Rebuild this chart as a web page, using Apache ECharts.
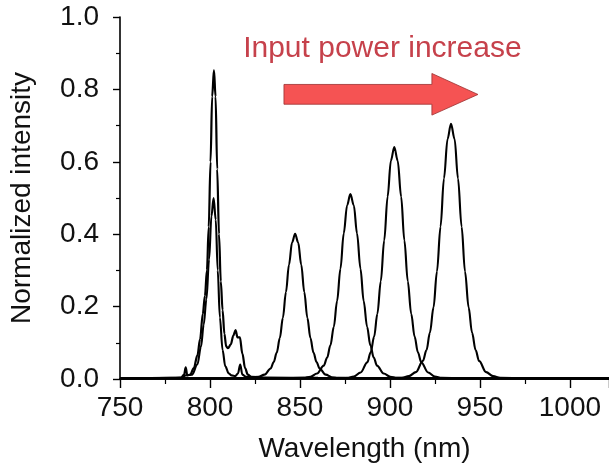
<!DOCTYPE html>
<html>
<head>
<meta charset="utf-8">
<script src="https://cdn.jsdelivr.net/npm/echarts@6/dist/echarts.min.js"></script>
<style>
html,body{margin:0;padding:0;background:#fff;}
#chart{width:609px;height:468px;}
</style>
</head>
<body>
<div id="chart"></div>
<script>
// Axis ticks
const xTicks = [750, 800, 850, 900, 950, 1000];
const yTicks = [0.0, 0.2, 0.4, 0.6, 0.8, 1.0];

// Spectrum at lowest input power (~802 nm)
const spectrum1 = [
  [750,0.002],[778,0.003],[784,0.004],[785.6,0.012],[786.5,0.032],[787.4,0.01],[789,0.012],[791,0.03],
  [793,0.065],[794.5,0.11],[796,0.18],[797.2,0.23],[798.3,0.30],[799.3,0.42],[800.3,0.60],[801.2,0.78],
  [802.2,0.853],[803.1,0.78],[804,0.58],[805,0.40],[806,0.27],[807,0.19],[808,0.125],[809,0.09],
  [810,0.085],[811.5,0.095],[813,0.12],[814.2,0.135],[815.3,0.115],[816.6,0.115],[818,0.07],[819.5,0.03],
  [821,0.012],[823,0.006],[830,0.004],[860,0.003],[1022,0.002]
];
// Spectrum 2 (residual ~802 nm + 847 nm)
const spectrum2 = [
  [750,0.002],[784,0.003],[786.5,0.01],[790,0.012],[793,0.04],[795,0.09],[796.5,0.15],[798,0.22],
  [799.5,0.33],[800.8,0.45],[802,0.50],[803.2,0.44],[804.3,0.30],[805.5,0.17],[807,0.08],[808.5,0.035],
  [810.5,0.015],[812,0.01],[814,0.008],[815.5,0.015],[816.8,0.04],[818,0.012],[820,0.006],[823.5,0.005],
  [826.9,0.006],[830.3,0.012],[833.7,0.029],[835.4,0.047],[837.1,0.073],[838.8,0.113],[840.5,0.169],
  [842.2,0.240],[843.9,0.316],[845.6,0.377],[847.3,0.401],[849.0,0.377],[850.7,0.316],[852.4,0.240],
  [854.1,0.169],[855.8,0.113],[857.5,0.073],[859.2,0.047],[860.9,0.029],[864.3,0.012],[867.7,0.005],
  [871.1,0.003],[880,0.002],[1022,0.002]
];
// Spectrum 3 (~878 nm)
const spectrum3 = [
  [750,0.002],[840,0.002],[852.1,0.003],[855.8,0.006],[859.5,0.015],[863.2,0.037],[865.1,0.059],
  [866.9,0.093],[868.8,0.144],[870.6,0.215],[872.5,0.305],[874.3,0.402],[876.2,0.480],[878.0,0.511],
  [879.9,0.480],[881.7,0.402],[883.6,0.305],[885.4,0.215],[887.3,0.144],[889.1,0.093],[891.0,0.059],
  [892.8,0.037],[896.5,0.015],[900.2,0.006],[903.9,0.003],[915,0.002],[1022,0.002]
];
// Spectrum 4 (~902 nm)
const spectrum4 = [
  [750,0.002],[865,0.002],[876.2,0.003],[879.9,0.007],[883.7,0.018],[887.4,0.046],[889.3,0.074],
  [891.2,0.117],[893.0,0.180],[894.9,0.270],[896.8,0.383],[898.7,0.504],[900.5,0.603],[902.4,0.641],
  [904.3,0.603],[906.2,0.504],[908.0,0.383],[909.9,0.270],[911.8,0.180],[913.7,0.117],[915.5,0.074],
  [917.4,0.046],[921.2,0.018],[924.9,0.007],[928.7,0.003],[940,0.002],[1022,0.002]
];
// Spectrum 5 (~934 nm, highest input power)
const spectrum5 = [
  [750,0.002],[895,0.002],[906.6,0.003],[910.5,0.008],[914.4,0.019],[918.3,0.050],[920.3,0.080],
  [922.2,0.128],[924.2,0.198],[926.1,0.297],[928.1,0.421],[930.0,0.554],[932.0,0.663],[933.9,0.705],
  [935.9,0.663],[937.8,0.554],[939.8,0.421],[941.7,0.297],[943.7,0.198],[945.6,0.128],[947.6,0.080],
  [949.5,0.050],[953.4,0.019],[957.3,0.008],[961.2,0.003],[975,0.002],[1022,0.002]
];

const annotationText = 'Input power increase';

const chart = echarts.init(document.getElementById('chart'), null, {renderer:'canvas'});
const FONT = '"Liberation Sans", Arial, Helvetica, sans-serif';

function lineSeries(data, w){
  return {
    type:'line', data:data, showSymbol:false, symbol:'none',
    smooth:0.35, smoothMonotone:'x',
    lineStyle:{color:'#000', width:w}, z:3, silent:true, clip:false
  };
}

chart.setOption({
  animation:false,
  backgroundColor:'#fff',
  grid:{left:120, right:0, top:17, bottom:86, containLabel:false},
  xAxis:[{
    type:'value', min:750, max:1021.7, interval:50, position:'bottom',
    name:'Wavelength (nm)', nameLocation:'middle', nameGap:56,
    nameTextStyle:{fontFamily:FONT, fontSize:28, color:'#111'},
    axisLine:{show:true, onZero:false, lineStyle:{color:'#000', width:1.6}},
    axisTick:{show:true, inside:false, length:9, lineStyle:{color:'#000', width:1.4}},
    minorTick:{show:true, splitNumber:2, length:5, lineStyle:{color:'#000', width:1.2}},
    axisLabel:{fontFamily:FONT, fontSize:28, color:'#111', margin:15, showMaxLabel:false,
      formatter:function(v){ return xTicks.indexOf(v) >= 0 ? String(v) : ''; }},
    splitLine:{show:false}
  },{
    type:'value', min:750, max:1021.7, position:'top',
    axisLine:{show:true, lineStyle:{color:'#000', width:1.6}},
    axisTick:{show:false}, axisLabel:{show:false}, splitLine:{show:false}
  }],
  yAxis:{
    type:'value', min:0, max:1, interval:0.2,
    name:'Normalized intensity', nameLocation:'middle', nameGap:84,
    nameTextStyle:{fontFamily:FONT, fontSize:28, color:'#111'},
    axisLine:{show:true, lineStyle:{color:'#000', width:1.6}},
    axisTick:{show:true, inside:false, length:7, lineStyle:{color:'#000', width:1.4}},
    minorTick:{show:true, splitNumber:2, length:4, lineStyle:{color:'#000', width:1.2}},
    axisLabel:{fontFamily:FONT, fontSize:28, color:'#111', margin:21,
      formatter:function(v){
        for (const t of yTicks){ if (Math.abs(t-v)<1e-6) return t.toFixed(1); }
        return '';
      }},
    splitLine:{show:false}
  },
  series:[
    lineSeries(spectrum1, 2.2),
    lineSeries(spectrum2, 2.1),
    lineSeries(spectrum3, 2.1),
    lineSeries(spectrum4, 2.1),
    lineSeries(spectrum5, 2.1)
  ]
});

// Arrow annotation (data-space anchor)
const arrowData = {x0:841.1, xHead:923.3, xTip:948.9, yShaftTop:0.8137, yShaftBot:0.759, yHeadTop:0.844, yHeadBot:0.729, yMid:0.786};
function px(x,y){ return chart.convertToPixel({xAxisIndex:0, yAxisIndex:0}, [x,y]); }
const pts = [
  px(arrowData.x0, arrowData.yShaftTop),
  px(arrowData.xHead, arrowData.yShaftTop),
  px(arrowData.xHead, arrowData.yHeadTop),
  px(arrowData.xTip, arrowData.yMid),
  px(arrowData.xHead, arrowData.yHeadBot),
  px(arrowData.xHead, arrowData.yShaftBot),
  px(arrowData.x0, arrowData.yShaftBot)
];
const textPos = px(895.8, 0.911);
chart.setOption({
  graphic:[
    {type:'polygon', shape:{points:pts}, style:{fill:'#f55353', stroke:'#9a2f2f', lineWidth:0.8}, z:10},
    {type:'text', x:textPos[0], y:textPos[1], style:{text:annotationText, fill:'#c6414b',
      font:'30px "Liberation Sans", Arial, sans-serif', textAlign:'center', textVerticalAlign:'middle'}, z:10}
  ]
});
</script>
</body>
</html>
